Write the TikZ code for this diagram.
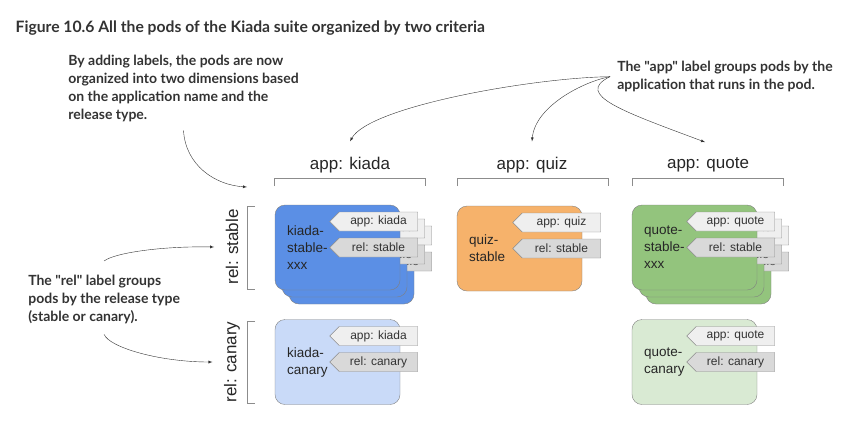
\documentclass[tikz,border=0pt]{standalone}
\usepackage{fontspec}
\setmainfont{Liberation Sans}
\newfontfamily\notefont{Lato}
\usetikzlibrary{shapes.symbols}
\definecolor{kiadablue}{HTML}{5B8FE5}
\definecolor{kiadalight}{HTML}{C9DAF8}
\definecolor{quizorange}{HTML}{F6B26B}
\definecolor{quotegreen}{HTML}{93C47D}
\definecolor{quotelight}{HTML}{D9EAD3}
\definecolor{tagapp}{HTML}{EFEFEF}
\definecolor{tagrel}{HTML}{D9D9D9}
\definecolor{inkgray}{HTML}{333333}

\begin{document}
\begin{tikzpicture}[x=1pt, y=-1pt, semithick,
  pod/.style={draw=black!50, thin, rounded corners=10pt, minimum width=125pt,
    minimum height=85pt, text width=101pt, inner xsep=12pt, inner ysep=0pt,
    align=left, font=\fontsize{13.5}{17}\selectfont, text=black!85},
  tag/.style={signal, signal to=west, draw=black!45, thin, minimum width=88pt,
    minimum height=19pt, inner sep=1pt, font=\fontsize{12}{14}\selectfont, text=black!80},
  appkey/.style={tag, fill=tagapp},
  relkey/.style={tag, fill=tagrel},
  head/.style={font=\fontsize{17}{20}\selectfont, text=black!85},
  note/.style={align=left, inner sep=0pt, text=inkgray,
    font=\notefont\bfseries\fontsize{14}{18}\selectfont},
  pointer/.style={-latex, thin, draw=black!80},
  brace/.style={draw=black!45, thin}]
\useasboundingbox (0,0) rectangle (858,432);

% title
\node[anchor=west, text=inkgray, font=\notefont\bfseries\fontsize{15.7}{18}\selectfont] (title) at (12,28)
  {Figure 10.6 All the pods of the Kiada suite organized by two criteria};

% notes
\node[note, anchor=north west] (gridnote) at (68,55)
  {By adding labels, the pods are now\\organized into two dimensions based\\on the application name and the\\release type.};
\node[note, anchor=north west] (appnote) at (617,61)
  {The "app" label groups pods by the\\application that runs in the pod.};
\node[note, anchor=north west] (relnote) at (28,275)
  {The "rel" label groups\\pods by the release type\\(stable or canary).};

% column and row heads
\node[head] (hkiada) at (350,165) {app: kiada};
\node[head] (hquiz) at (532,165) {app: quiz};
\node[head] (hquote) at (708,165) {app: quote};
\node[head, rotate=90] (rstable) at (232,247) {rel: stable};
\node[head, rotate=90] (rcanary) at (232,362) {rel: canary};
\coordinate (podgrid) at (247,187);

\draw[brace] (274,186) -- (274,178) -- (425,178) -- (425,186);
\draw[brace] (457,186) -- (457,178) -- (608,178) -- (608,186);
\draw[brace] (632,186) -- (632,178) -- (783,178) -- (783,186);
\draw[brace] (255,206) -- (247,206) -- (247,289) -- (255,289);
\draw[brace] (255,321) -- (247,321) -- (247,403) -- (255,403);

% stable pods, kiada and quote stacked three deep
\foreach \d/\n in {14/3, 7/2} {
  \node[pod, fill=kiadablue] (ks\n) at (337.5+\d, 247.5+\d) {};
  \node[appkey] (ks\n-app) at ([shift={(41,-26)}]ks\n.center) {app: kiada};
  \node[relkey] (ks\n-rel) at ([shift={(41,0)}]ks\n.center) {rel: stable};
}
\node[pod, fill=kiadablue] (ks1) at (337.5,247.5) {kiada-\\stable-\\xxx};
\node[appkey] (ks1-app) at ([shift={(41,-26)}]ks1.center) {app: kiada};
\node[relkey] (ks1-rel) at ([shift={(41,0)}]ks1.center) {rel: stable};

\node[pod, fill=quizorange] (qz) at (519.5,248.5) {quiz-\\stable};
\node[appkey] (qz-app) at ([shift={(42,-26)}]qz.center) {app: quiz};
\node[relkey] (qz-rel) at ([shift={(42,0)}]qz.center) {rel: stable};

\foreach \d/\n in {14/3, 7/2} {
  \node[pod, fill=quotegreen] (qs\n) at (694.5+\d, 247.5+\d) {};
  \node[appkey] (qs\n-app) at ([shift={(41,-26)}]qs\n.center) {app: quote};
  \node[relkey] (qs\n-rel) at ([shift={(41,0)}]qs\n.center) {rel: stable};
}
\node[pod, fill=quotegreen] (qs1) at (694.5,247.5) {quote-\\stable-\\xxx};
\node[appkey] (qs1-app) at ([shift={(41,-26)}]qs1.center) {app: quote};
\node[relkey] (qs1-rel) at ([shift={(41,0)}]qs1.center) {rel: stable};

% canary pods
\node[pod, fill=kiadalight] (kc) at (337.5,362) {kiada-\\canary};
\node[appkey] (kc-app) at ([shift={(41,-26)}]kc.center) {app: kiada};
\node[relkey] (kc-rel) at ([shift={(41,0)}]kc.center) {rel: canary};

\node[pod, fill=quotelight] (qc) at (694.5,362) {quote-\\canary};
\node[appkey] (qc-app) at ([shift={(41,-26)}]qc.center) {app: quote};
\node[relkey] (qc-rel) at ([shift={(41,0)}]qc.center) {rel: canary};

% pointers
\draw[pointer] ([yshift=-8pt]gridnote.south) .. controls +(2,35) and +(-32,-2) .. (podgrid);
\draw[pointer] ([xshift=-7pt]appnote.west) .. controls +(-77,1) and +(19,-35) .. ([yshift=12pt]hkiada.north);
\draw[pointer] ([xshift=-7pt]appnote.west) .. controls +(-27,5) and +(3,-35) .. ([yshift=12pt]hquiz.north);
\draw[pointer] ([xshift=-7pt]appnote.west) .. controls +(-37,18) and +(-80,-30) .. ([xshift=-3pt,yshift=12pt]hquote.north);
\draw[pointer] ([yshift=14pt]relnote.north) .. controls +(10,-8) and +(-53,-1) .. ([xshift=-8pt]rstable.north);
\draw[pointer] ([yshift=-10pt]relnote.south) .. controls +(5,13) and +(-53,0) .. ([xshift=-8pt]rcanary.north);
\end{tikzpicture}
\end{document}
